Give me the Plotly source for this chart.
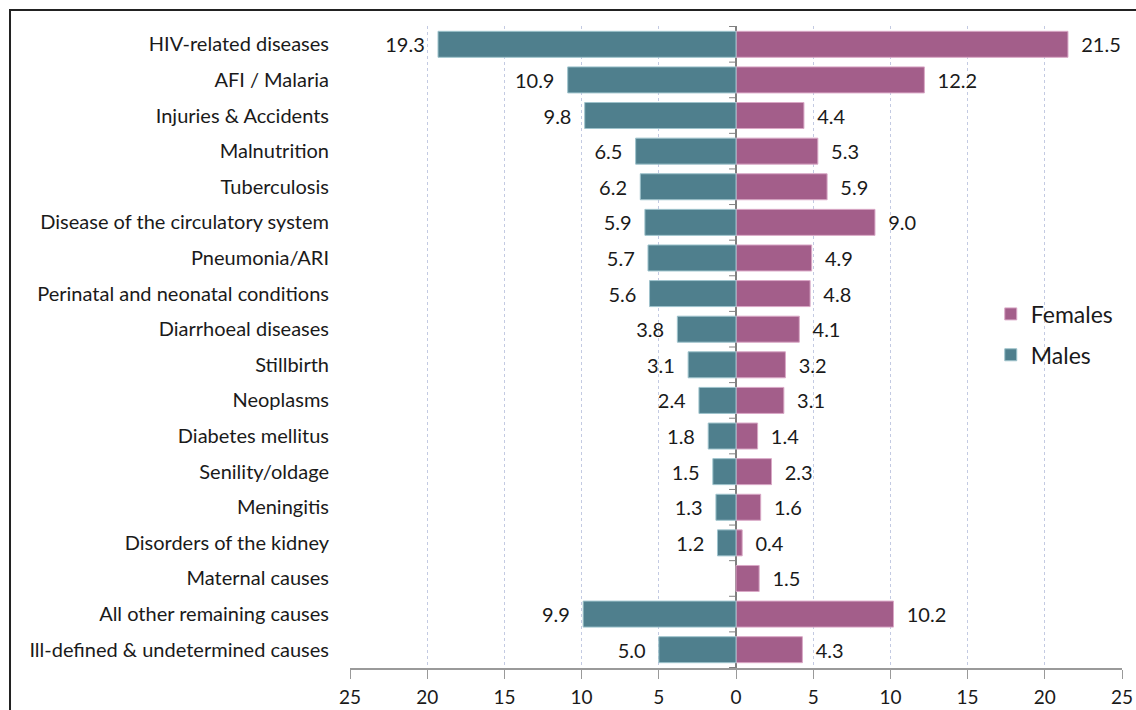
import plotly.graph_objects as go

causes = [
    "HIV-related diseases", "AFI / Malaria", "Injuries & Accidents", "Malnutrition",
    "Tuberculosis", "Disease of the circulatory system", "Pneumonia/ARI",
    "Perinatal and neonatal conditions", "Diarrhoeal diseases", "Stillbirth",
    "Neoplasms", "Diabetes mellitus", "Senility/oldage", "Meningitis",
    "Disorders of the kidney", "Maternal causes", "All other remaining causes",
    "Ill-defined & undetermined causes",
]
males = [19.3, 10.9, 9.8, 6.5, 6.2, 5.9, 5.7, 5.6, 3.8, 3.1, 2.4, 1.8, 1.5, 1.3, 1.2, None, 9.9, 5.0]
females = [21.5, 12.2, 4.4, 5.3, 5.9, 9.0, 4.9, 4.8, 4.1, 3.2, 3.1, 1.4, 2.3, 1.6, 0.4, 1.5, 10.2, 4.3]
tick_vals = [-25, -20, -15, -10, -5, 0, 5, 10, 15, 20, 25]
tick_text = [str(abs(v)) for v in tick_vals]

MALE_COLOR = "#4F7F8D"
FEMALE_COLOR = "#A35E8A"
FONT = "Lato, Carlito, Calibri, sans-serif"
PAD = "\u00a0\u00a0"  # gap between bar end and its value label

fig = go.Figure()
# Females first so it is listed on top in the legend
fig.add_trace(go.Bar(
    y=causes,
    x=females,
    orientation="h",
    name="Females",
    legendgroup="f",
    marker=dict(color=FEMALE_COLOR, line=dict(color="#D9A8C6", width=1)),
    text=[PAD + f"{v:.1f}" for v in females],
    textposition="outside",
    textfont=dict(size=20, color="#1a1a1a", family=FONT),
    cliponaxis=False,
))
fig.add_trace(go.Bar(
    y=causes,
    x=[-v if v is not None else None for v in males],
    orientation="h",
    name="Males",
    legendgroup="m",
    marker=dict(color=MALE_COLOR, line=dict(color="#9EC3CC", width=1)),
    text=[f"{v:.1f}" + PAD if v is not None else "" for v in males],
    textposition="outside",
    textfont=dict(size=20, color="#1a1a1a", family=FONT),
    cliponaxis=False,
))

# small tick marks on the zero line between categories
shapes = []
for i in range(len(causes) + 1):
    shapes.append(dict(
        type="line", xref="x", yref="y",
        x0=-0.45, x1=0, y0=i - 0.5, y1=i - 0.5,
        line=dict(color="#808080", width=1),
    ))
# outer frame
shapes.append(dict(
    type="rect", xref="paper", yref="paper",
    x0=-0.4404, x1=1.03, y0=-0.08, y1=1.0249,
    line=dict(color="#222222", width=2), fillcolor="rgba(0,0,0,0)",
))

fig.update_layout(
    width=1136, height=710,
    margin=dict(l=350, r=14, t=26, b=42, autoexpand=False),
    paper_bgcolor="white", plot_bgcolor="white",
    barmode="relative",
    bargap=0.27,
    font=dict(family=FONT, size=20, color="#1a1a1a"),
    showlegend=True,
    legend=dict(
        x=0.83, y=0.585, xanchor="left", yanchor="top",
        traceorder="grouped", tracegroupgap=8,
        font=dict(size=23, family=FONT, color="#1a1a1a"),
        bgcolor="rgba(0,0,0,0)",
    ),
    shapes=shapes,
)
fig.update_xaxes(
    range=[-25, 25], automargin=False,
    tickvals=tick_vals, ticktext=tick_text,
    tickfont=dict(size=19, family=FONT),
    showgrid=True, gridcolor="#C3CAE2", griddash="3px,3px", gridwidth=1,
    zeroline=True, zerolinecolor="#808080", zerolinewidth=1.5,
    showline=True, linecolor="#9A9A9A", linewidth=1.5,
    ticks="outside", ticklen=9, tickcolor="#9A9A9A",
    ticklabelstandoff=2,
)
fig.update_yaxes(
    categoryorder="array", categoryarray=causes, autorange="reversed",
    automargin=False,
    tickfont=dict(size=20, family=FONT),
    showgrid=False, zeroline=False, showline=False,
    ticks="", ticklabelstandoff=20,
)

fig.write_html("out.html")
